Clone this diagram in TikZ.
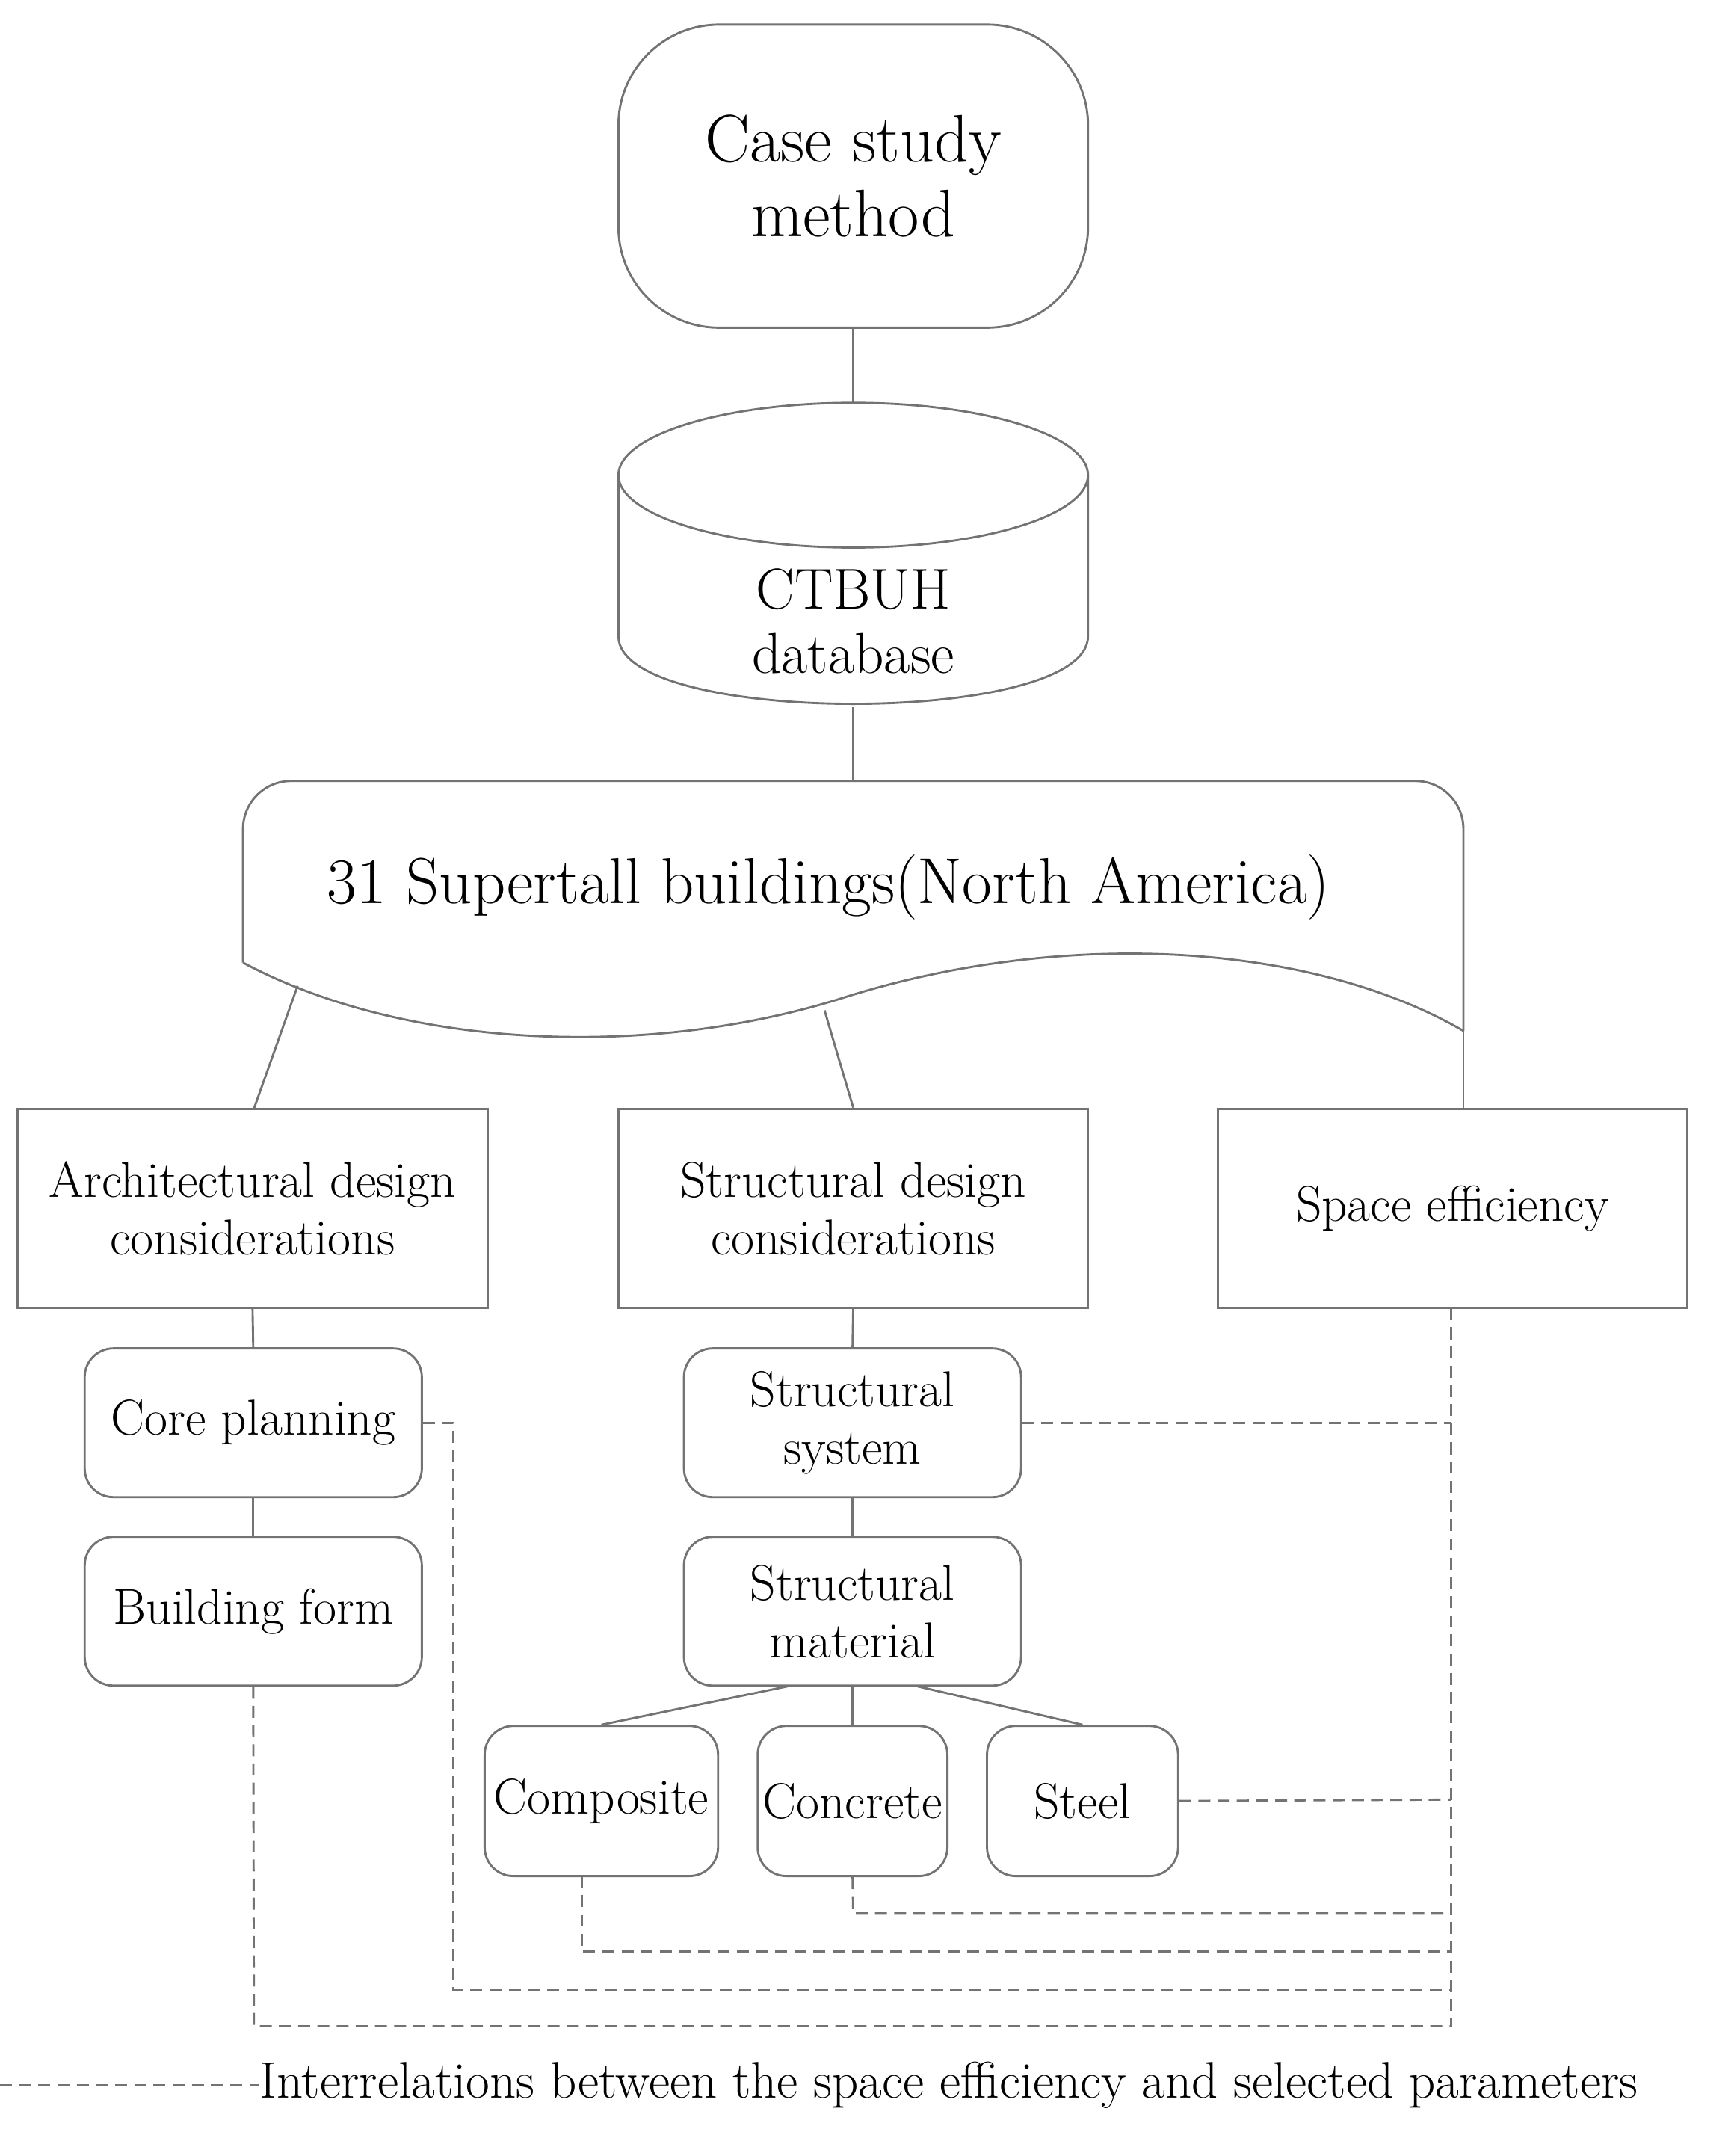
\documentclass[tikz,border=0pt]{standalone}
\usetikzlibrary{calc}
\begin{document}
\begin{tikzpicture}[x=0.02cm,y=-0.02cm,
  ln/.style={draw=black!55,line width=0.9pt},
  dl/.style={draw=black!55,line width=0.9pt,dash pattern=on 5pt off 3pt},
  bx/.style={ln,rectangle,minimum width=344*0.02cm,minimum height=146*0.02cm,align=center,font=\fontsize{21}{24}\selectfont},
  rb/.style={ln,rectangle,rounded corners=12pt,minimum width=247*0.02cm,minimum height=109*0.02cm,align=center,font=\fontsize{21}{24}\selectfont},
  sb/.style={ln,rectangle,rounded corners=12pt,minimum height=110*0.02cm,inner sep=0pt,align=center,font=\fontsize{21}{24}\selectfont},
  tx/.style={align=center,font=\fontsize{24}{27}\selectfont}]
\useasboundingbox (0,0) rectangle (1270,1579);
% terminal
\node[ln,rectangle,rounded corners=42pt,minimum width=344*0.02cm,minimum height=222*0.02cm,align=center,font=\fontsize{28}{31}\selectfont] (cs) at (625,129) {Case study\\method};
% cylinder
\draw[ln] (453,348) -- (453,466) .. controls (453,532) and (797,532) .. (797,466) -- (797,348);
\draw[ln] (625,348) ellipse[x radius=172,y radius=53];
\node[tx] (db) at (625,455) {CTBUH\\database};
\coordinate (dbt) at (625,295); \coordinate (dbb) at (625,518);
% document
\draw[ln,rounded corners=20pt] (178,705) -- (178,572) -- (1072,572) -- (1072,755);
\draw[ln] (1072,755)
  .. controls (960,690) and (780,680) .. (620,730) .. controls (480,775) and (300,770) .. (178,705);
\node[font=\fontsize{27}{30}\selectfont] (sup) at (607,650) {31 Supertall buildings(North America)};
\coordinate (supt) at (625,572);
\draw[ln] (cs.south) -- (dbt);
\draw[ln] (dbb) -- (supt);
% boxes
\node[bx] (arch) at (185,885) {Architectural design\\considerations};
\node[bx] (str) at (625,885) {Structural design\\considerations};
\node[bx] (sp) at (1064,885) {Space efficiency};
\draw[ln] (218,722) -- (186,812);
\draw[ln] (604,740) -- (str.north);
\draw[ln] (1072,755) -- (1072,812);
\node[rb] (core) at (185.5,1042) {Core planning};
\node[rb] (form) at (185.5,1180) {Building form};
\node[rb] (ss) at (624.5,1042) {Structural\\system};
\node[rb] (sm) at (624.5,1180) {Structural\\material};
\draw[ln] (arch.south) -- (core.north);
\draw[ln] (core.south) -- (form.north);
\draw[ln] (str.south) -- (ss.north);
\draw[ln] (ss.south) -- (sm.north);
\node[sb,minimum width=171*0.02cm] (comp) at (440.5,1319) {Composite};
\node[sb,minimum width=139*0.02cm] (conc) at (624.5,1319) {Concrete};
\node[sb,minimum width=140*0.02cm] (steel) at (793,1319) {Steel};
\draw[ln] (577,1235) -- (comp.north);
\draw[ln] (sm.south) -- (conc.north);
\draw[ln] (672,1235) -- (steel.north);
% dashed
\coordinate (r) at (1063,1484);
\draw[dl] (1063,958) -- (r);
\draw[dl] (ss.east) -- (1063,1042);
\draw[dl] (core.east) -- (332,1042) -- (332,1457) -- (1063,1457);
\draw[dl] (steel.east) -- (1063,1318);
\draw[dl] (conc.south) -- (625,1401) -- (1063,1401);
\draw[dl] (426,1374) -- (426,1429) -- (1063,1429);
\draw[dl] (form.south) -- (186,1484) -- (r);
% legend
\coordinate (l0) at (0,1527);
\node[anchor=west,inner sep=0pt,font=\fontsize{21.5}{24}\selectfont] (leg) at (190,1527) {Interrelations between the space efficiency and selected parameters};
\draw[dl] (l0) -- (leg.west);
\end{tikzpicture}
\end{document}
